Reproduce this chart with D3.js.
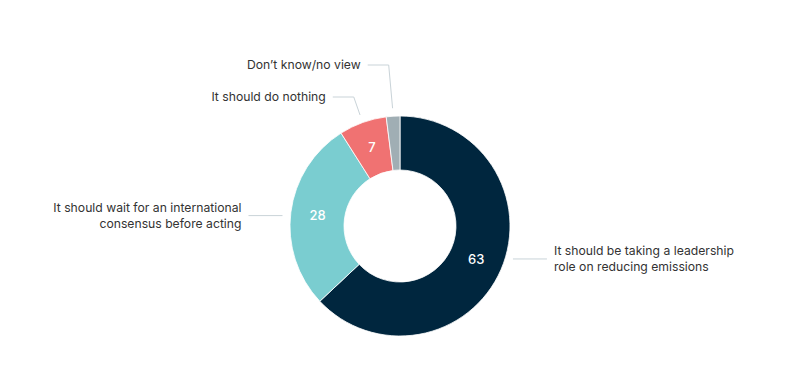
<!DOCTYPE html>
<html>
<head>
<meta charset="utf-8">
<script src="https://cdn.jsdelivr.net/npm/d3@7"></script>
<style>
body { margin: 0; background: #fff; }
svg text { font-family: Inter, "Noto Sans", sans-serif; }
</style>
</head>
<body>
<div id="chart"></div>
<script>
// data
var answers = [
	["It should be taking a leadership", "role on reducing emissions"],
	["It should wait for an international", "consensus before acting"],
	["It should do nothing"],
	["Don\u2019t know/no view"]
];
var shares = [63, 28, 7, 2];
var colours = ["#00263e", "#7acdd0", "#f07272", "#a0aeb4"];
var showValue = [true, true, true, false];

var w = 800, h = 388;
var cx = 400, cy = 226;
var outerR = 110, innerR = 56;

var svg = d3.select("#chart").append("svg")
	.attr("width", w)
	.attr("height", h);

var g = svg.append("g").attr("transform", "translate(" + cx + "," + cy + ")");

var pie = d3.pie().sort(null).value(function(d){ return d; });
var arcs = pie(shares);
var arc = d3.arc().innerRadius(innerR).outerRadius(outerR);
var labelArc = d3.arc().innerRadius((innerR + outerR) / 2).outerRadius((innerR + outerR) / 2);

g.selectAll("path")
	.data(arcs)
	.enter()
	.append("path")
	.attr("d", arc)
	.attr("fill", function(d, i){ return colours[i]; })
	.attr("stroke", "#fff")
	.attr("stroke-width", 0.8);

g.selectAll("text.val")
	.data(arcs)
	.enter()
	.append("text")
	.attr("class", "val")
	.filter(function(d, i){ return showValue[i]; })
	.attr("x", function(d){ return labelArc.centroid(d)[0]; })
	.attr("y", function(d){ return labelArc.centroid(d)[1]; })
	.attr("dy", "0.35em")
	.attr("text-anchor", "middle")
	.attr("fill", "#fff")
	.attr("font-size", 13)
	.attr("font-weight", 500)
	.text(function(d){ return d.value; });

// connectors + category labels
var gap = 8, lineLen = 34;
var lift = [0, 0, 19, 51]; // small slices get lifted above the ring
arcs.forEach(function(d, i){
	var mid = (d.startAngle + d.endAngle) / 2;
	var right = Math.sin(mid) > 0;
	var pts, tx, ty;
	if (lift[i] === 0) {
		// horizontal connector at the value label's height
		var y = labelArc.centroid(d)[1];
		var xa = Math.sqrt(outerR * outerR - y * y) + gap;
		var x0 = right ? xa : -xa;
		var x1 = right ? xa + lineLen : -xa - lineLen;
		pts = [[x0, y], [x1, y]];
		tx = right ? x1 + 7 : x1 - 7;
		ty = y;
	} else {
		var r = outerR + gap;
		var sx = r * Math.sin(mid), sy = -r * Math.cos(mid);
		var ey = -outerR - lift[i];
		var ex = sx - (sy - ey) * 0.35 * Math.abs(Math.sin(mid)) * 2 - 2;
		var endX = ex - 21;
		pts = [[sx, sy], [ex, ey], [endX, ey]];
		tx = endX - 7;
		ty = ey;
	}
	g.append("path")
		.attr("d", d3.line()(pts))
		.attr("fill", "none")
		.attr("stroke", "#c9d3d8")
		.attr("stroke-width", 1);
	var lines = answers[i];
	var t = g.append("text")
		.attr("x", tx)
		.attr("y", ty)
		.attr("text-anchor", right ? "start" : "end")
		.attr("fill", "#333")
		.attr("font-size", 12.2);
	lines.forEach(function(s, k){
		t.append("tspan")
			.attr("x", tx)
			.attr("y", ty + (k - (lines.length - 1) / 2) * 15.5)
			.attr("dy", "0.35em")
			.text(s);
	});
});
</script>
</body>
</html>
